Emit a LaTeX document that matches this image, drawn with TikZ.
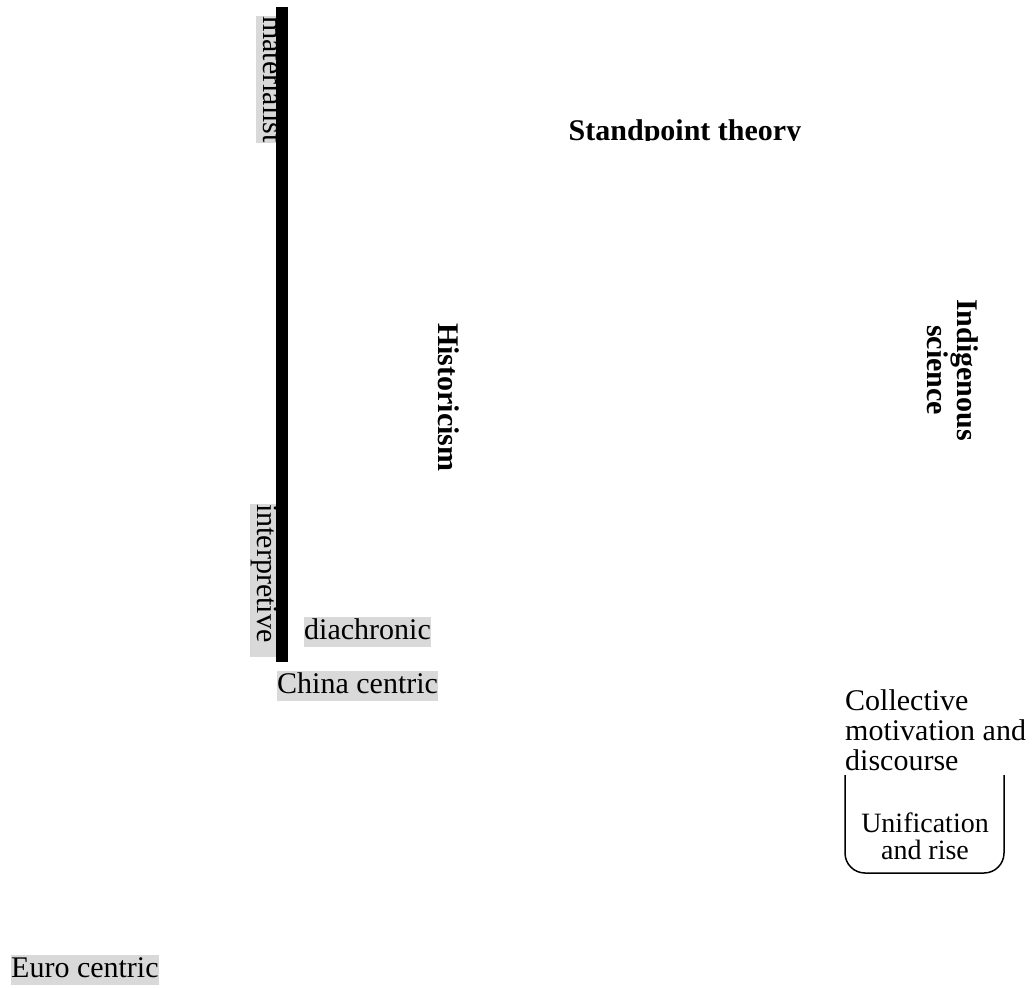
\documentclass[tikz,border=0pt]{standalone}
\usepackage{fontspec}
\setmainfont{Liberation Serif}
\usetikzlibrary{positioning}

\begin{document}
\begin{tikzpicture}[
    x=1pt, y=-1pt,
    every node/.style={inner sep=0pt, font=\fontsize{30}{30}\selectfont},
    tag/.style={fill=gray!30, text height=22pt, text depth=8pt, anchor=north west},
    heading/.style={font=\bfseries\fontsize{30}{30}\selectfont, align=center},
    note/.style={align=left, font=\fontsize{30}{30}\selectfont}
  ]
  \useasboundingbox (0,0) rectangle (1034,988);

  % Labels along the axis
  \node[tag, rotate=-90] (materialist) at (286,16) {materialist};
  \node[tag, rotate=-90, text width=153pt, align=left] (interpretive) at (280,504) {interpretive};
  \fill (276,7) rectangle (288,662);
  \node[tag] (diachronic) at (304,617) {diachronic};
  \node[tag] (china) at (277,671) {China centric};
  \node[tag] (euro) at (11,955) {Euro centric};

  % Headings
  \begin{scope}
    \clip (0,0) rectangle (1034,140.5);
    \node[heading, anchor=base] (standpoint) at (685,140) {Standpoint theory};
  \end{scope}
  \node[heading, rotate=-90, anchor=base west] (historicism) at (438,323) {Historicism};
  \node[heading, rotate=-90] (indigenous) at (953,370) {Indigenous\\science};

  % Open box at the bottom right
  \node[note, anchor=north west] (collective) at (845,689) {Collective\\motivation and\\discourse};
  \node[align=center, font=\fontsize{28}{27}\selectfont, anchor=north] (unification) at (925,813) {Unification\\and rise};
  \draw[line width=1.5pt, rounded corners=20pt] (845,775) -- (845,873) -- (1004,873) -- (1004,775);
\end{tikzpicture}
\end{document}
